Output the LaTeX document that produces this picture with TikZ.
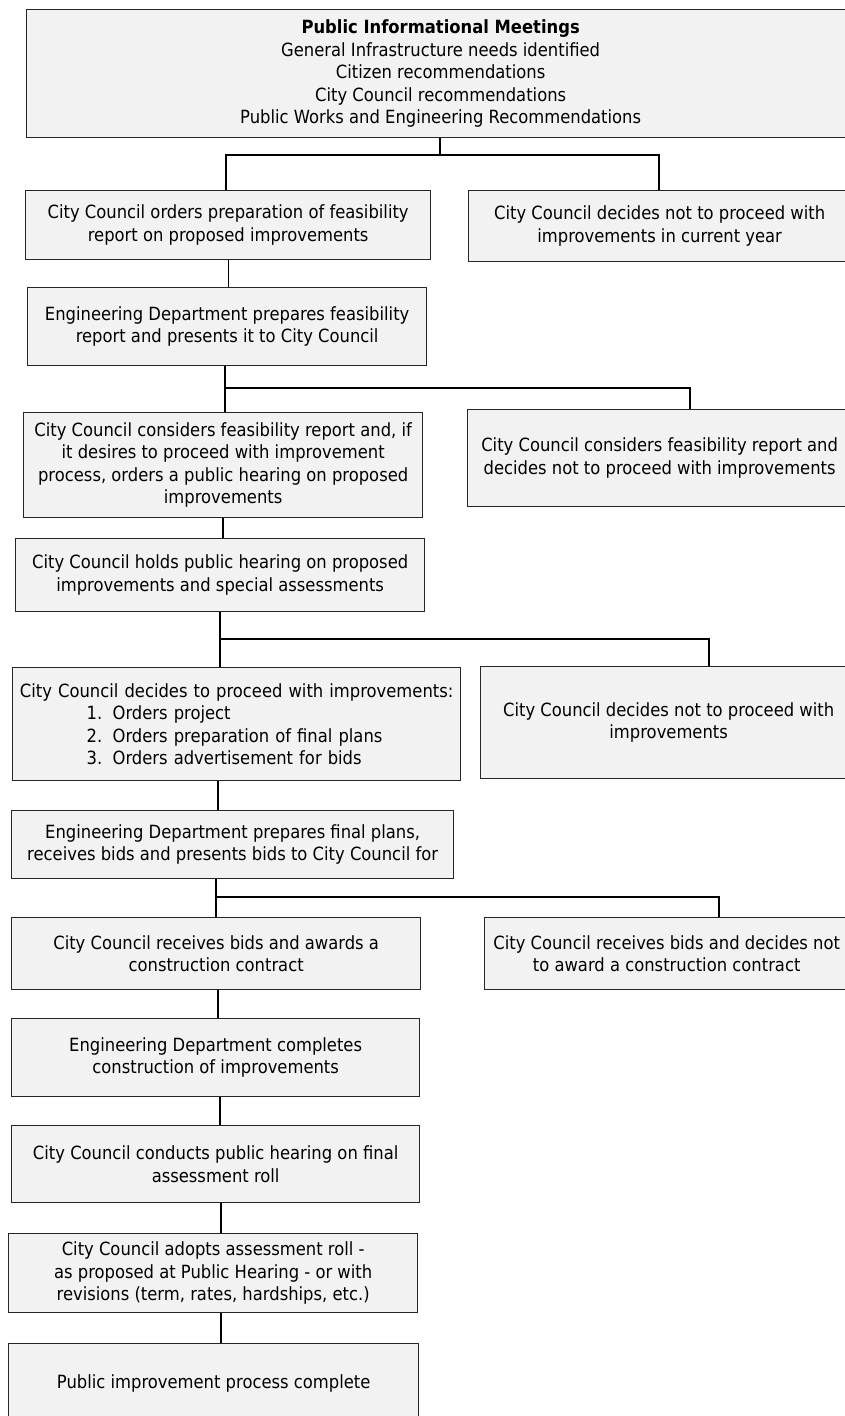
\documentclass[tikz,border=0pt]{standalone}
\usepackage{fontspec}
\setmainfont{DejaVu Sans}[FakeStretch=0.9]
\usetikzlibrary{calc}
\definecolor{boxfill}{HTML}{F2F2F2}
\definecolor{boxline}{HTML}{262626}
\tikzset{
  fbox/.style={draw=boxline, line width=1.3pt, fill=boxfill, anchor=north west,
    inner sep=0pt, align=center, text=black,
    font=\fontsize{18.2pt}{22.5pt}\selectfont},
  conn/.style={draw=black, line width=1.3pt},
}
\begin{document}
\begin{tikzpicture}[x=1pt,y=1pt]
\useasboundingbox (0,0) rectangle (845,-1416);
\clip (0,0) rectangle (845,-1416);

% boxes
\node[fbox, minimum width=828pt, minimum height=128pt] (top) at (26,-9)
  {\textbf{Public Informational Meetings}\\General Infrastructure needs identified\\Citizen recommendations\\City Council recommendations\\Public Works and Engineering Recommendations};
\node[fbox, minimum width=405pt, minimum height=69pt] (b1) at (25,-190)
  {City Council orders preparation of feasibility\\report on proposed improvements};
\node[fbox, minimum width=382pt, minimum height=71pt] (b1r) at (468,-190)
  {City Council decides not to proceed with\\improvements in current year};
\node[fbox, minimum width=399pt, minimum height=78pt] (b2) at (27,-287)
  {Engineering Department prepares feasibility\\report and presents it to City Council};
\node[fbox, minimum width=399pt, minimum height=105pt] (b3) at (23,-412)
  {City Council considers feasibility report and, if\\it desires to proceed with improvement\\process, orders a public hearing on proposed\\improvements};
\node[fbox, minimum width=384pt, minimum height=97pt] (b3r) at (467,-409)
  {City Council considers feasibility report and\\decides not to proceed with improvements};
\node[fbox, minimum width=409pt, minimum height=73pt] (b4) at (15,-538)
  {City Council holds public hearing on proposed\\improvements and special assessments};
\node[fbox, minimum width=448pt, minimum height=113pt, text width=448pt, align=left] (b5) at (12,-667)
  {\noindent\makebox[448pt][c]{City Council decides to proceed with improvements:}\\
   \hspace*{74pt}\makebox[26pt][l]{1.}Orders project\\
   \hspace*{74pt}\makebox[26pt][l]{2.}Orders preparation of final plans\\
   \hspace*{74pt}\makebox[26pt][l]{3.}Orders advertisement for bids};
\node[fbox, minimum width=376pt, minimum height=112pt] (b5r) at (480,-666)
  {City Council decides not to proceed with\\improvements};
\node[fbox, minimum width=442pt, minimum height=68pt] (b6) at (11,-810)
  {Engineering Department prepares final plans,\\receives bids and presents bids to City Council for};
\node[fbox, minimum width=409pt, minimum height=72pt] (b7) at (11,-917)
  {City Council receives bids and awards a\\construction contract};
\node[fbox, minimum width=364pt, minimum height=72pt] (b7r) at (484,-917)
  {City Council receives bids and decides not\\to award a construction contract};
\node[fbox, minimum width=408pt, minimum height=78pt] (b8) at (11,-1018)
  {Engineering Department completes\\construction of improvements};
\node[fbox, minimum width=408pt, minimum height=77pt] (b9) at (11,-1125)
  {City Council conducts public hearing on final\\assessment roll};
\node[fbox, minimum width=409pt, minimum height=79pt] (b10) at (8,-1233)
  {City Council adopts assessment roll -\\as proposed at Public Hearing - or with\\revisions (term, rates, hardships, etc.)};
\node[fbox, minimum width=410pt, minimum height=80pt] (b11) at (8,-1343)
  {Public improvement process complete};

% junction coordinates
\coordinate (j1) at (440,-155);
\coordinate (l1) at (226,-155);
\coordinate (r1) at (659,-155);
\coordinate (j2) at (225,-388);
\coordinate (r2) at (690,-388);
\coordinate (x3) at (223,0);
\coordinate (j4) at (220,-639);
\coordinate (r4) at (709,-639);
\coordinate (x5) at (218,0);
\coordinate (j6) at (216,-897);
\coordinate (r6) at (719,-897);
\coordinate (x7) at (218,0);
\coordinate (x8) at (220,0);
\coordinate (x9) at (221,0);

% connectors
\draw[conn] (top.south -| j1) -- (j1);
\draw[conn] (b1.north -| l1) -- (l1) -- (r1) -- (b1r.north -| r1);
\draw[conn] (b1.south) -- (b1.south |- b2.north);
\draw[conn] (b2.south -| j2) -- (j2) -- (r2) -- (b3r.north -| r2);
\draw[conn] (j2) -- (b3.north -| j2);
\draw[conn] (b3.south -| x3) -- (b4.north -| x3);
\draw[conn] (b4.south -| j4) -- (j4) -- (r4) -- (b5r.north -| r4);
\draw[conn] (j4) -- (b5.north -| j4);
\draw[conn] (b5.south -| x5) -- (b6.north -| x5);
\draw[conn] (b6.south -| j6) -- (j6) -- (r6) -- (b7r.north -| r6);
\draw[conn] (j6) -- (b7.north -| j6);
\draw[conn] (b7.south -| x7) -- (b8.north -| x7);
\draw[conn] (b8.south -| x8) -- (b9.north -| x8);
\draw[conn] (b9.south -| x9) -- (b10.north -| x9);
\draw[conn] (b10.south -| x9) -- (b11.north -| x9);
\end{tikzpicture}
\end{document}
